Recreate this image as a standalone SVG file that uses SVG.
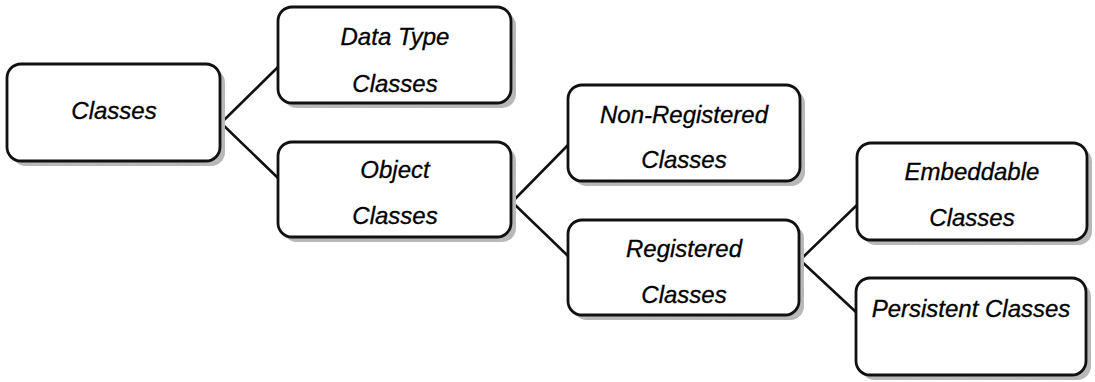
<svg xmlns="http://www.w3.org/2000/svg" width="1095" height="382" viewBox="0 0 1095 382">
  <style>
    .box { fill: #ffffff; stroke: #111111; stroke-width: 2.8; }
    .shadow { fill: #b5b5b5; }
    .grain { fill: #9a9a9a; filter: url(#grain); opacity: 0.6; }
    .label { font-family: "Liberation Sans", Arial, sans-serif; font-style: italic; font-size: 24px; fill: #000000; stroke: #000000; stroke-width: 0.3; text-anchor: middle; }
    .link { stroke: #111111; stroke-width: 2.6; fill: none; stroke-linecap: round; }
  </style>
  <defs>
    <!-- speckle texture laid over the drop shadows -->
    <filter id="grain" x="0" y="0" width="100%" height="100%" filterUnits="objectBoundingBox">
      <feTurbulence type="fractalNoise" baseFrequency="0.8" numOctaves="2" seed="5" result="noise"/>
      <feColorMatrix in="noise" type="matrix" values="0 0 0 0 0.55  0 0 0 0 0.55  0 0 0 0 0.55  0 0 0 2 -0.6" result="speck"/>
      <feComposite in="speck" in2="SourceGraphic" operator="in"/>
    </filter>
  </defs>

  <g id="connectors">
    <polyline class="link" points="278,67 221,123 278,178"/>
    <polyline class="link" points="568,145 512,202 568,256"/>
    <polyline class="link" points="857,205 800,260 857,313"/>
  </g>

  <g id="node-classes">
    <rect class="shadow" x="12" y="69" width="213" height="97" rx="14"/>
    <rect class="grain" x="12" y="69" width="213" height="97" rx="14"/>
    <rect class="box" x="7" y="64" width="213" height="97" rx="14"/>
    <text class="label" x="114" y="119">Classes</text>
  </g>

  <g id="node-datatype">
    <rect class="shadow" x="283" y="12" width="233" height="96" rx="14"/>
    <rect class="grain" x="283" y="12" width="233" height="96" rx="14"/>
    <rect class="box" x="278" y="7" width="233" height="96" rx="14"/>
    <text class="label" x="395" y="45">Data Type</text>
    <text class="label" x="395" y="92">Classes</text>
  </g>

  <g id="node-object">
    <rect class="shadow" x="283" y="147" width="233" height="95" rx="14"/>
    <rect class="grain" x="283" y="147" width="233" height="95" rx="14"/>
    <rect class="box" x="278" y="142" width="233" height="95" rx="14"/>
    <text class="label" x="395" y="178">Object</text>
    <text class="label" x="395" y="224">Classes</text>
  </g>

  <g id="node-nonregistered">
    <rect class="shadow" x="573" y="90" width="232" height="96" rx="14"/>
    <rect class="grain" x="573" y="90" width="232" height="96" rx="14"/>
    <rect class="box" x="568" y="85" width="232" height="96" rx="14"/>
    <text class="label" x="684" y="123">Non-Registered</text>
    <text class="label" x="684" y="168">Classes</text>
  </g>

  <g id="node-registered">
    <rect class="shadow" x="573" y="225" width="231" height="95" rx="14"/>
    <rect class="grain" x="573" y="225" width="231" height="95" rx="14"/>
    <rect class="box" x="568" y="220" width="231" height="95" rx="14"/>
    <text class="label" x="684" y="257">Registered</text>
    <text class="label" x="684" y="303">Classes</text>
  </g>

  <g id="node-embeddable">
    <rect class="shadow" x="862" y="148" width="230" height="97" rx="14"/>
    <rect class="grain" x="862" y="148" width="230" height="97" rx="14"/>
    <rect class="box" x="857" y="143" width="230" height="97" rx="14"/>
    <text class="label" x="972" y="180">Embeddable</text>
    <text class="label" x="972" y="226">Classes</text>
  </g>

  <g id="node-persistent">
    <rect class="shadow" x="861" y="283" width="230" height="97" rx="14"/>
    <rect class="grain" x="861" y="283" width="230" height="97" rx="14"/>
    <rect class="box" x="856" y="278" width="230" height="97" rx="14"/>
    <text class="label" x="971" y="317">Persistent Classes</text>
  </g>
</svg>
